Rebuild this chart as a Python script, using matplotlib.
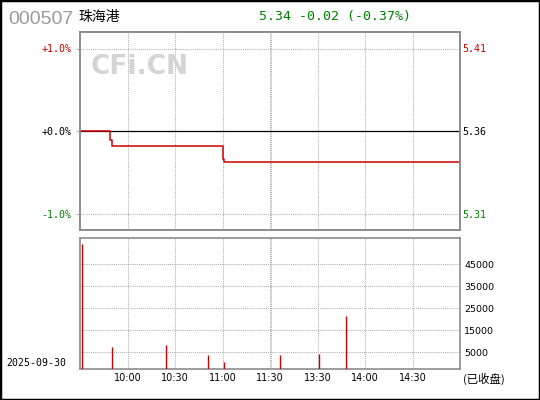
import matplotlib
matplotlib.use("Agg")
import matplotlib.pyplot as plt
from matplotlib.patches import Rectangle
import numpy as np

# ---------------- data ----------------
code = "000507"
name = "珠海港"
quote_text = "5.34 -0.02 (-0.37%)"
date_text = "2025-09-30"
status_text = "(已收盘)"
prev_close = 5.36

price_times = ["09:30", "09:49", "09:50", "11:00", "11:01", "15:00"]
prices = [5.36, 5.354, 5.35, 5.342, 5.34, 5.34]

vol_times = ["09:31", "09:50", "10:24", "10:51", "11:01", "13:06", "13:31", "13:48"]
volumes = [54200, 7400, 8300, 3800, 600, 3800, 4200, 21500]

pct_ticks = [1.0, 0.0, -1.0]
pct_labels = ["+1.0%", "+0.0%", "-1.0%"]
vol_ticks = [45000, 35000, 25000, 15000, 5000]
x_tick_times = ["10:00", "10:30", "11:00", "11:30", "13:30", "14:00", "14:30"]

RED = "#cc0000"
GREEN = "#008000"
GRID = "#b0b0b0"
SPINE = "#8c8c8c"


def tmin(s):
    h, m = map(int, s.split(":"))
    t = h * 60 + m
    return t - 570 if t <= 690 else t - 780 + 120


px = [tmin(t) for t in price_times]
pct = [(p / prev_close - 1) * 100 for p in prices]
vx = [tmin(t) for t in vol_times]
xt = [tmin(t) for t in x_tick_times]

W, H = 540, 400
fig = plt.figure(figsize=(5.4, 4.0), dpi=100)
fig.patch.set_facecolor("white")


def fx(x):
    return x / W


def fy(y):
    return 1 - y / H


L, R = 80, 460
ax1 = fig.add_axes([fx(L), fy(230), fx(R - L), (230 - 32) / H])
ax2 = fig.add_axes([fx(L), fy(369.3), fx(R - L), (369.3 - 238.3) / H])

dotted = (0, (1, 1))

# ---------------- price panel ----------------
ax1.set_xlim(0, 240)
ax1.set_ylim(-1.2, 1.2)
for xv in xt:
    ax1.axvline(xv, color=GRID, lw=0.75, ls=dotted, zorder=1)
ax1.axvline(120.9, color=GRID, lw=0.75, ls=dotted, zorder=1)
for yv in pct_ticks:
    ax1.axhline(yv, color=GRID, lw=0.75, ls=dotted, zorder=1)
ax1.axhline(0, color="black", lw=0.9, zorder=2)
ax1.plot(px, pct, drawstyle="steps-post", color=RED, lw=1.1, zorder=3)

ax1.set_xticks([])
ax1.set_yticks(pct_ticks)
ax1.set_yticklabels(pct_labels, family="DejaVu Sans Mono", fontsize=7.2)
ax1.tick_params(axis="y", left=True, length=3, width=0.8, color=GRID, pad=3)
for lab, c in zip(ax1.get_yticklabels(), [RED, "black", GREEN]):
    lab.set_color(c)

ax1r = ax1.twinx()
ax1r.set_ylim(ax1.get_ylim())
ax1r.set_yticks(pct_ticks)
ax1r.set_yticklabels(["%.2f" % (prev_close * (1 + p / 100)) for p in pct_ticks],
                     family="DejaVu Sans Mono", fontsize=7.2)
ax1r.tick_params(axis="y", length=0, pad=1.5)
for lab, c in zip(ax1r.get_yticklabels(), [RED, "black", GREEN]):
    lab.set_color(c)

for a in (ax1, ax1r):
    for s in a.spines.values():
        s.set_color(SPINE)
        s.set_linewidth(1.2)

# ---------------- volume panel ----------------
VLO, VHI = -2700, 56800
ax2.set_xlim(0, 240)
ax2.set_ylim(VLO, VHI)
for xv in xt:
    ax2.axvline(xv, color=GRID, lw=0.75, ls=dotted, zorder=1)
ax2.axvline(120.9, color=GRID, lw=0.75, ls=dotted, zorder=1)
for yv in vol_ticks:
    ax2.axhline(yv, color=GRID, lw=0.75, ls=dotted, zorder=1)
ax2.vlines(vx, VLO, volumes, color=RED, lw=1.0, zorder=3)

ax2.yaxis.tick_right()
ax2.set_yticks(vol_ticks)
ax2.set_yticklabels([str(v) for v in vol_ticks], family="DejaVu Sans", fontsize=6.8)
ax2.tick_params(axis="y", length=0, pad=3)
ax2.set_xticks(xt)
ax2.set_xticklabels(x_tick_times, family="DejaVu Sans", fontsize=7)
ax2.tick_params(axis="x", length=0, pad=3)
for s in ax2.spines.values():
    s.set_color(SPINE)
    s.set_linewidth(1.2)

# ---------------- texts ----------------
fig.text(fx(8), fy(24), code, color="#9a9a9a", fontsize=14,
         family="Liberation Sans", va="baseline", ha="left")
fig.text(fx(78), fy(21), name, color="black", fontsize=10,
         family=["Noto Sans CJK SC", "DejaVu Sans"], va="baseline", ha="left")
fig.text(fx(259), fy(20), quote_text, color=GREEN, fontsize=9.5,
         family="DejaVu Sans Mono", va="baseline", ha="left")
fig.text(fx(91), fy(74), "CFi.CN", color="#d4d4d4", fontsize=19,
         family="DejaVu Sans", fontweight="bold", va="baseline", ha="left", zorder=0)
fig.text(fx(6), fy(366.5), date_text, color="black", fontsize=7.1,
         family="DejaVu Sans Mono", va="baseline", ha="left")
fig.text(fx(463), fy(383), status_text, color="black", fontsize=8.2,
         family=["Noto Sans CJK SC", "DejaVu Sans"], va="baseline", ha="left")

fig.add_artist(Rectangle((0, 0), 1, 1, transform=fig.transFigure, fill=False,
                         lw=2.5, ec="black"))

fig.savefig("out.png", dpi=100, facecolor="white")
